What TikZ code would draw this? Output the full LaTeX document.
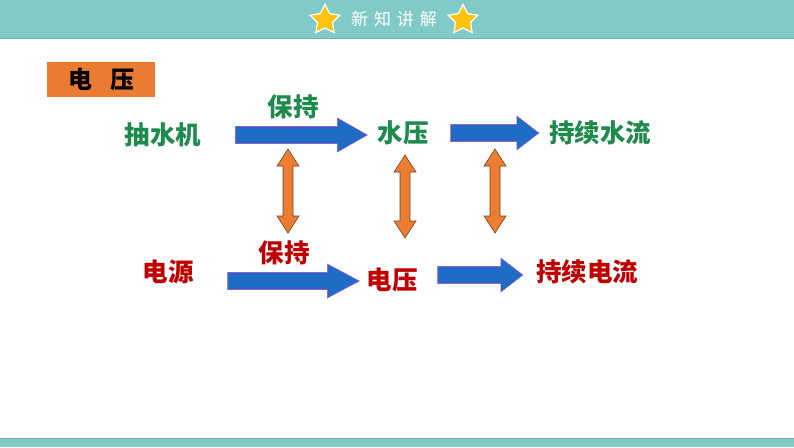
\documentclass[tikz,border=0pt]{standalone}
\usepackage{fontspec}
\newfontfamily\cjk{Noto Sans CJK SC}
\usetikzlibrary{shapes.geometric, calc}
\definecolor{BandTeal}{HTML}{80CBC7}
\definecolor{BandEdge}{HTML}{6AB3B0}
\definecolor{StarGold}{HTML}{FFC20E}
\definecolor{TagOrange}{HTML}{EB7B31}
\definecolor{WaterGreen}{HTML}{1E8A4C}
\definecolor{PowerRed}{HTML}{C00000}
\definecolor{ArrowBlue}{HTML}{1F6CC6}
\definecolor{ArrowEdge}{HTML}{9B5CC8}
\definecolor{LinkOrange}{HTML}{ED7D31}
\definecolor{LinkEdge}{HTML}{6B4420}

\tikzset{
  word/.style={inner sep=0pt, font=\cjk\bfseries\fontsize{25.5}{30}\selectfont},
  water/.style={word, text=WaterGreen},
  power/.style={word, text=PowerRed},
  titlestar/.style={star, star points=5, star point ratio=1.95, minimum size=31pt,
    inner sep=0pt, fill=StarGold, draw=white, line width=1.2pt},
  blockarrow/.style={draw=ArrowEdge, fill=ArrowBlue, line width=0.6pt,
    to path={let \p1=(\tikztostart), \p2=(\tikztotarget) in
      (\x1,\y1+8.5pt) -- (\x2-#1,\y1+8.5pt) -- (\x2-#1,\y1+17pt) -- (\x2,\y1)
      -- (\x2-#1,\y1-17pt) -- (\x2-#1,\y1-8.5pt) -- (\x1,\y1-8.5pt) -- cycle}},
  blockarrow/.default=28pt,
  linkarrow/.style={draw=LinkEdge, fill=LinkOrange, line width=0.6pt,
    to path={let \p1=(\tikztostart), \p2=(\tikztotarget) in
      (\x1,\y1) -- (\x1+11pt,\y1-17pt) -- (\x1+5pt,\y1-17pt) -- (\x1+5pt,\y2+17pt)
      -- (\x1+11pt,\y2+17pt) -- (\x1,\y2) -- (\x1-11pt,\y2+17pt) -- (\x1-5pt,\y2+17pt)
      -- (\x1-5pt,\y1-17pt) -- (\x1-11pt,\y1-17pt) -- cycle}}
}

\begin{document}
\begin{tikzpicture}[x=1pt, y=-1pt]
  \useasboundingbox (0,0) rectangle (794,447);
  % bands
  \fill[BandTeal] (0,0) rectangle (794,38);
  \draw[BandEdge, line width=1pt] (0,38) -- (794,38);
  \fill[BandTeal] (0,438) rectangle (794,447);
  \draw[BandEdge, line width=1pt] (0,438) -- (794,438);
  \node[titlestar] (starL) at (325,20) {};
  \node[titlestar] (starR) at (463,20) {};
  \node[text=white, font=\cjk\fontsize{17}{20}\selectfont] (title) at (394,19) {新\hspace{0.35em}知\hspace{0.35em}讲\hspace{0.35em}解};

  % tag
  \node[fill=TagOrange, minimum width=108pt, minimum height=35pt, inner sep=0pt,
    font=\cjk\bfseries\fontsize{24}{28}\selectfont] (tag) at (101,79.5) {电\hspace{0.75em}压};

  % water row
  \node[water] (pump) at (163,135) {抽水机};
  \node[water] (keepW) at (293,107) {保持};
  \node[water] (head) at (403,133) {水压};
  \node[water] (flowW) at (600,133) {持续水流};

  % circuit row
  \node[power] (source) at (168,272) {电源};
  \node[power] (keepE) at (284,253) {保持};
  \node[power] (volt) at (392,280) {电压};
  \node[power] (flowE) at (587,272) {持续电流};

  \draw[blockarrow=30pt] ([xshift=34pt]pump.east) to ([xshift=-10pt]head.west);
  \draw[blockarrow=22pt] ([xshift=22pt]head.east) to ([xshift=-10pt]flowW.west);
  \draw[blockarrow=32pt] ([xshift=34pt, yshift=-9pt]source.east) to ([xshift=-7pt]volt.west);
  \draw[blockarrow=22pt] ([xshift=20pt, yshift=5pt]volt.east) to ([xshift=-13pt]flowE.west);

  % links between the rows
  \coordinate (linkA) at (288,149);
  \coordinate (linkA') at (288,233);
  \coordinate (linkB) at (405,155);
  \coordinate (linkB') at (405,238);
  \coordinate (linkC) at (495,149);
  \coordinate (linkC') at (495,233);
  \draw[linkarrow] (linkA) to (linkA');
  \draw[linkarrow] (linkB) to (linkB');
  \draw[linkarrow] (linkC) to (linkC');
\end{tikzpicture}
\end{document}
